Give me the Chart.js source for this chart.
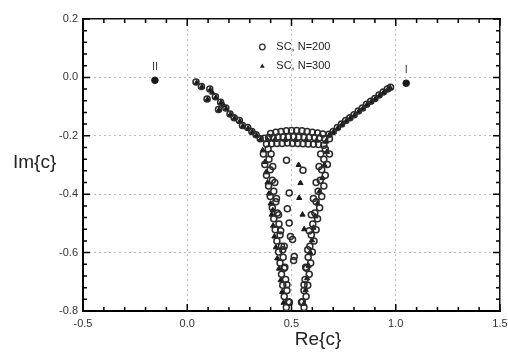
<!DOCTYPE html>
<html>
<head>
<meta charset="utf-8">
<script src="https://cdn.jsdelivr.net/npm/chart.js@4.4.1/dist/chart.umd.min.js"></script>
<style>
  html, body { margin: 0; padding: 0; background: #fff; }
  #wrap { width: 508px; height: 356px; }
</style>
</head>
<body>
<div id="wrap"><canvas id="spectrum"></canvas></div>
<script>
// axis ticks
const xTicks = [-0.5, 0.0, 0.5, 1.0, 1.5];
const yTicks = [0.2, 0.0, -0.2, -0.4, -0.6, -0.8];

// SC, N=200 (open circles), points as [Re, Im]
const n200LeftBranch = [[0.042,-0.016],[0.068,-0.031],[0.108,-0.040],[0.095,-0.074],[0.135,-0.066],[0.160,-0.085],
    [0.150,-0.110],[0.185,-0.105],[0.205,-0.125],[0.225,-0.138],[0.250,-0.148],[0.265,-0.165],[0.290,-0.172],
    [0.310,-0.185],[0.330,-0.196],[0.350,-0.210]];
const n200RightBranch = [[0.680,-0.195],[0.700,-0.185],[0.720,-0.172],[0.740,-0.160],[0.760,-0.148],[0.780,-0.138],
    [0.800,-0.128],[0.820,-0.115],[0.840,-0.105],[0.860,-0.092],[0.880,-0.082],[0.900,-0.072],[0.920,-0.060],
    [0.940,-0.050],[0.960,-0.040],[0.975,-0.034]];
const n200Band = [[0.400,-0.192],[0.425,-0.188],[0.450,-0.185],[0.475,-0.183],[0.500,-0.182],[0.525,-0.182],
    [0.550,-0.183],[0.575,-0.185],[0.600,-0.188],[0.625,-0.190],[0.650,-0.194],
    [0.370,-0.208],[0.390,-0.206],[0.412,-0.205],[0.435,-0.204],[0.460,-0.204],[0.485,-0.203],[0.510,-0.203],
    [0.535,-0.204],[0.560,-0.205],[0.585,-0.205],[0.610,-0.206],[0.635,-0.207],[0.660,-0.209],[0.682,-0.210],
    [0.380,-0.228],[0.405,-0.227],[0.430,-0.226],[0.455,-0.226],[0.480,-0.225],[0.505,-0.226],[0.530,-0.226],
    [0.555,-0.227],[0.580,-0.228],[0.605,-0.229],[0.630,-0.230],[0.655,-0.232]];
const n200LeftWall = [[0.388,-0.245],[0.365,-0.262],[0.392,-0.280],[0.372,-0.298],[0.398,-0.316],[0.380,-0.335],
    [0.408,-0.352],[0.390,-0.372],[0.415,-0.390],[0.398,-0.408],[0.425,-0.426],[0.408,-0.446],[0.432,-0.464],
    [0.415,-0.484],[0.440,-0.502],[0.422,-0.522],[0.445,-0.540],[0.430,-0.560],[0.452,-0.578],[0.438,-0.598],
    [0.460,-0.616],[0.445,-0.636],[0.465,-0.654],[0.452,-0.674],[0.472,-0.692],[0.458,-0.712],[0.478,-0.730],
    [0.465,-0.750],[0.485,-0.768],[0.475,-0.788],
    [0.402,-0.262],[0.410,-0.305],[0.420,-0.360],[0.428,-0.415],[0.438,-0.470],[0.448,-0.525],[0.458,-0.590],
    [0.468,-0.650],[0.478,-0.710],[0.490,-0.770]];
const n200RightWall = [[0.662,-0.245],[0.682,-0.262],[0.655,-0.280],[0.672,-0.298],[0.645,-0.316],[0.662,-0.335],
    [0.638,-0.352],[0.655,-0.372],[0.628,-0.390],[0.645,-0.408],[0.618,-0.426],[0.635,-0.446],[0.612,-0.464],
    [0.625,-0.484],[0.602,-0.502],[0.618,-0.522],[0.595,-0.540],[0.608,-0.560],[0.588,-0.578],[0.600,-0.598],
    [0.580,-0.616],[0.592,-0.636],[0.572,-0.654],[0.585,-0.674],[0.565,-0.692],[0.578,-0.712],[0.560,-0.730],
    [0.570,-0.750],[0.552,-0.768],[0.560,-0.788],
    [0.640,-0.262],[0.632,-0.305],[0.618,-0.360],[0.605,-0.415],[0.595,-0.470],[0.585,-0.525],[0.578,-0.590],
    [0.568,-0.650],[0.560,-0.710],[0.548,-0.770]];
const n200Inner = [[0.476,-0.284],[0.555,-0.318],[0.489,-0.396],[0.480,-0.450],[0.489,-0.499],[0.495,-0.545],
    [0.465,-0.578],[0.513,-0.613],[0.510,-0.627],[0.505,-0.555]];

// SC, N=300 (filled triangles)
const n300LeftBranch = [[0.045,-0.019],[0.070,-0.033],[0.110,-0.043],[0.097,-0.076],[0.137,-0.069],[0.162,-0.087],
    [0.152,-0.112],[0.187,-0.108],[0.207,-0.127],[0.227,-0.140],[0.252,-0.151],[0.267,-0.167],[0.292,-0.175],
    [0.312,-0.187],[0.332,-0.199],[0.352,-0.212],[0.120,-0.052],[0.175,-0.096]];
const n300RightBranch = [[0.682,-0.197],[0.702,-0.187],[0.722,-0.174],[0.742,-0.162],[0.762,-0.150],[0.782,-0.140],
    [0.802,-0.130],[0.822,-0.117],[0.842,-0.107],[0.862,-0.094],[0.882,-0.084],[0.902,-0.074],[0.922,-0.062],
    [0.942,-0.052],[0.962,-0.042],[0.973,-0.036]];
const n300Band = [[0.385,-0.215],[0.420,-0.214],[0.470,-0.214],[0.520,-0.214],[0.570,-0.215],[0.620,-0.216],[0.665,-0.220]];
const n300LeftWall = [[0.362,-0.250],[0.372,-0.290],[0.378,-0.325],[0.385,-0.360],[0.392,-0.398],[0.400,-0.432],
    [0.410,-0.455],[0.405,-0.470],[0.412,-0.508],[0.418,-0.545],[0.425,-0.582],[0.432,-0.620],[0.440,-0.655],
    [0.448,-0.695],[0.455,-0.735],[0.462,-0.772]];
const n300RightWall = [[0.670,-0.255],[0.658,-0.300],[0.648,-0.345],[0.635,-0.390],[0.625,-0.432],[0.615,-0.476],
    [0.605,-0.515],[0.598,-0.558],[0.590,-0.600],[0.582,-0.645],[0.575,-0.688],[0.568,-0.728],[0.560,-0.775]];
const n300Inner = [[0.534,-0.300],[0.543,-0.362],[0.537,-0.413],[0.561,-0.520],[0.553,-0.470]];

// isolated modes I and II
const modeLabels = ['II', 'I'];
const modePoints = [[-0.155,-0.010],[1.050,-0.020]];

function toXY(list) {
    return list.map((p) => ({x: p[0], y: p[1]}));
}

// small inward tick marks on all four sides
const tickMarksPlugin = {
    id: 'tickMarks',
    afterDatasetsDraw(chart) {
        const g = chart.ctx;
        const a = chart.chartArea;
        const xs = chart.scales.x, ys = chart.scales.y;
        g.save();
        g.setLineDash([]);
        g.strokeStyle = '#000';
        g.lineWidth = 1.5;
        g.beginPath();
        for (let i = 0; i <= 20; i++) {
            const px = xs.getPixelForValue(-0.5 + i * 0.1);
            const len = i % 5 === 0 ? 7 : 4;
            g.moveTo(px, a.bottom); g.lineTo(px, a.bottom - len);
            g.moveTo(px, a.top); g.lineTo(px, a.top + len);
        }
        for (let i = 0; i <= 25; i++) {
            const py = ys.getPixelForValue(-0.8 + i * 0.04);
            const len = i % 5 === 0 ? 7 : 4;
            g.moveTo(a.left, py); g.lineTo(a.left + len, py);
            g.moveTo(a.right, py); g.lineTo(a.right - len, py);
        }
        g.stroke();
        g.restore();
    }
};

const textPlugin = {
    id: 'texts',
    afterDraw(chart) {
        const g = chart.ctx;
        const a = chart.chartArea;
        const xs = chart.scales.x, ys = chart.scales.y;
        g.save();
        // axis titles
        g.fillStyle = '#222';
        g.font = '19px "Liberation Sans", Arial, sans-serif';
        g.textBaseline = 'middle';
        g.textAlign = 'left';
        g.fillText('Im{c}', 13, 163);
        g.textAlign = 'center';
        g.fillText('Re{c}', 318, 340);
        // legend
        const lx = xs.getPixelForValue(0.36);
        const ly1 = a.top + 28, ly2 = a.top + 47;
        g.strokeStyle = '#333';
        g.lineWidth = 1.3;
        g.beginPath();
        g.arc(lx, ly1, 2.8, 0, Math.PI * 2);
        g.stroke();
        g.fillStyle = '#222';
        g.beginPath();
        g.moveTo(lx, ly2 - 2.6); g.lineTo(lx + 2.4, ly2 + 1.7); g.lineTo(lx - 2.4, ly2 + 1.7);
        g.closePath();
        g.fill();
        g.font = '11px "Liberation Sans", Arial, sans-serif';
        g.textAlign = 'left';
        g.fillText('SC, N=200', lx + 14, ly1);
        g.fillText('SC, N=300', lx + 14, ly2);
        // mode labels
        g.textAlign = 'center';
        g.fillStyle = '#444';
        modePoints.forEach((p, i) => {
            g.fillText(modeLabels[i], xs.getPixelForValue(p[0]), ys.getPixelForValue(p[1]) - 13);
        });
        g.restore();
    }
};

function gridColor(c, ticks) {
    const v = c.tick ? c.tick.value : null;
    if (v === null || v === ticks[0] || v === ticks[ticks.length - 1]) return 'rgba(0,0,0,0)';
    return '#bdbdbd';
}

function loadSpectrumChart() {
    const ctx = document.getElementById('spectrum').getContext('2d');
    const n200 = [].concat(n200LeftBranch, n200RightBranch, n200Band, n200LeftWall, n200RightWall, n200Inner);
    const n300 = [].concat(n300LeftBranch, n300RightBranch, n300Band, n300LeftWall, n300RightWall, n300Inner);
    const chart = new Chart(ctx, {
        type: 'scatter',
        data: {
            datasets: [{
                label: 'SC, N=200',
                data: toXY(n200),
                pointStyle: 'circle',
                pointRadius: 3,
                borderColor: '#2a2a2a',
                borderWidth: 1.5,
                backgroundColor: 'rgba(255,255,255,0)'
            }, {
                label: 'SC, N=300',
                data: toXY(n300),
                pointStyle: 'triangle',
                pointRadius: 3,
                borderColor: '#1a1a1a',
                borderWidth: 1,
                backgroundColor: '#1a1a1a'
            }, {
                label: 'modes',
                data: toXY(modePoints),
                pointStyle: 'circle',
                pointRadius: 3.3,
                borderColor: '#1a1a1a',
                backgroundColor: '#1a1a1a'
            }]
        },
        options: {
            responsive: true,
            maintainAspectRatio: false,
            animation: false,
            layout: {padding: {top: 19, right: 8, left: 0, bottom: 0}},
            plugins: {legend: {display: false}, tooltip: {enabled: false}},
            scales: {
                x: {
                    type: 'linear',
                    position: 'bottom',
                    min: -0.5, max: 1.5,
                    afterBuildTicks: (s) => { s.ticks = xTicks.map((v) => ({value: v})); },
                    afterFit: (s) => { s.height = 45; s.paddingRight = 0; s.paddingLeft = 0; },
                    border: {display: true, color: '#000', width: 2, dash: [2, 3]},
                    grid: {drawTicks: false, color: (c) => gridColor(c, xTicks), lineWidth: 1},
                    ticks: {
                        padding: 6, color: '#333', maxRotation: 0,
                        font: {family: '"Liberation Sans", Arial, sans-serif', size: 11},
                        callback: (v) => Number(v).toFixed(1)
                    }
                },
                y: {
                    type: 'linear',
                    position: 'left',
                    min: -0.8, max: 0.2,
                    afterBuildTicks: (s) => { s.ticks = yTicks.map((v) => ({value: v})); },
                    afterFit: (s) => { s.width = 83; },
                    border: {display: true, color: '#000', width: 2, dash: [2, 3]},
                    grid: {drawTicks: false, color: (c) => gridColor(c, yTicks), lineWidth: 1},
                    ticks: {
                        padding: 5, color: '#333',
                        font: {family: '"Liberation Sans", Arial, sans-serif', size: 11},
                        callback: (v) => Number(v).toFixed(1)
                    }
                },
                xTop: {
                    axis: 'x',
                    type: 'linear',
                    position: 'top',
                    min: -0.5, max: 1.5,
                    afterFit: (s) => { s.height = 0; s.paddingRight = 0; s.paddingLeft = 0; },
                    border: {display: true, color: '#111', width: 1.5},
                    grid: {display: false},
                    ticks: {display: false}
                },
                yRight: {
                    axis: 'y',
                    type: 'linear',
                    position: 'right',
                    min: -0.8, max: 0.2,
                    afterFit: (s) => { s.width = 0; },
                    border: {display: true, color: '#111', width: 1.5},
                    grid: {display: false},
                    ticks: {display: false}
                }
            }
        },
        plugins: [tickMarksPlugin, textPlugin]
    });
}

window.addEventListener('load', () => {
    loadSpectrumChart();
});
</script>
</body>
</html>
